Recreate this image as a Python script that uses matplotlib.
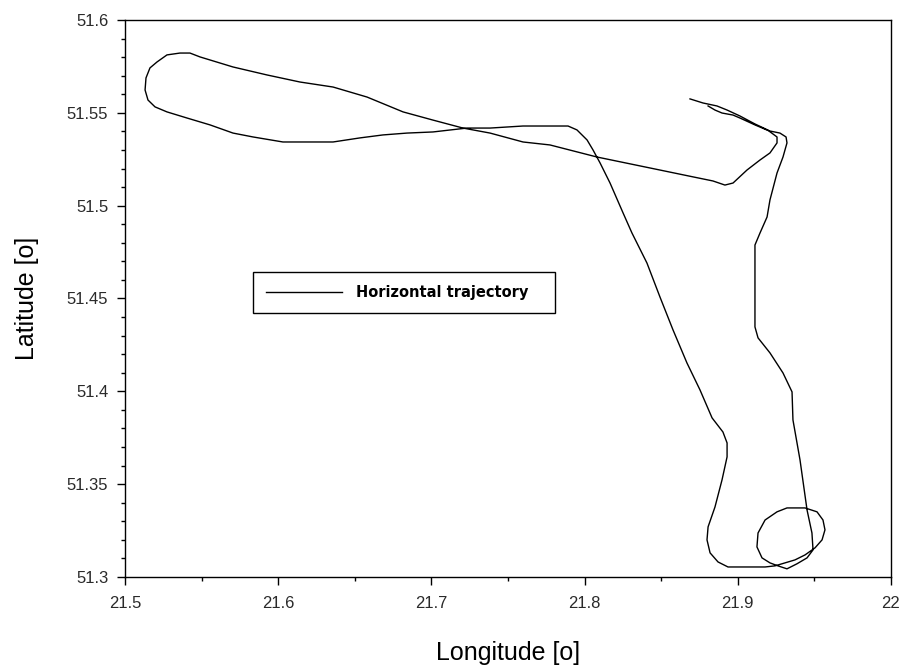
import numpy as np
import matplotlib.pyplot as plt
from matplotlib.ticker import MultipleLocator

plt.rcParams['font.family'] = ['Liberation Sans', 'DejaVu Sans']

# flight track, degrees
lon = [
    21.8688, 21.8773, 21.8864, 21.8930, 21.9014, 21.9112, 21.9210, 21.9275,
    21.9315, 21.9321, 21.9295, 21.9256, 21.9210, 21.9191, 21.9145, 21.9112,
    21.9112, 21.9132, 21.9210, 21.9295, 21.9354, 21.9360, 21.9406, 21.9452,
    21.9484, 21.9491, 21.9452, 21.9386, 21.9321, 21.9262,
    21.9210, 21.9158, 21.9125, 21.9132, 21.9178, 21.9256, 21.9321, 21.9439,
    21.9517, 21.9556, 21.9569, 21.9550, 21.9504, 21.9439, 21.9373, 21.9308,
    21.9243, 21.9178,
    21.8936, 21.8871, 21.8819, 21.8799, 21.8806, 21.8851, 21.8897, 21.8930,
    21.8930, 21.8903, 21.8832, 21.8753, 21.8668, 21.8577, 21.8492, 21.8407,
    21.8309, 21.8251, 21.8166, 21.8101, 21.8055, 21.8016, 21.7950, 21.7892,
    21.7598, 21.7383, 21.7232, 21.7010, 21.6841, 21.6684, 21.6534, 21.6358,
    21.6031, 21.5836, 21.5705, 21.5555, 21.5405, 21.5274, 21.5196, 21.5150,
    21.5131, 21.5137, 21.5163, 21.5209, 21.5274, 21.5359, 21.5424, 21.5490,
    21.5705, 21.5927, 21.6142, 21.6358, 21.6580, 21.6815, 21.7010, 21.7206,
    21.7383, 21.7598, 21.7774, 21.8081, 21.8427, 21.8708, 21.8838, 21.8916,
    21.8969, 21.9060, 21.9145, 21.9210, 21.9256, 21.9256, 21.9200, 21.9112,
    21.9014, 21.8969, 21.8897, 21.8851, 21.8806,
]
lat = [
    51.5575, 51.5553, 51.5537, 51.5515, 51.5483, 51.5440, 51.5402, 51.5391,
    51.5370, 51.5338, 51.5262, 51.5176, 51.5031, 51.4939, 51.4853, 51.4788,
    51.4347, 51.4288, 51.4207, 51.4099, 51.3997, 51.3846, 51.3631, 51.3361,
    51.3237, 51.3146, 51.3103, 51.3071, 51.3044, 51.3060,
    51.3076, 51.3103, 51.3162, 51.3237, 51.3307, 51.3351, 51.3372, 51.3372,
    51.3351, 51.3307, 51.3254, 51.3200, 51.3157, 51.3119, 51.3092, 51.3076,
    51.3060, 51.3054,
    51.3054, 51.3081, 51.3130, 51.3200, 51.3270, 51.3377, 51.3523, 51.3647,
    51.3722, 51.3781, 51.3857, 51.4008, 51.4153, 51.4331, 51.4508, 51.4691,
    51.4853, 51.4961, 51.5122, 51.5230, 51.5300, 51.5354, 51.5408, 51.5429,
    51.5429, 51.5418, 51.5418, 51.5397, 51.5391, 51.5381, 51.5365, 51.5343,
    51.5343, 51.5370, 51.5391, 51.5435, 51.5472, 51.5505, 51.5532, 51.5569,
    51.5623, 51.5688, 51.5742, 51.5774, 51.5812, 51.5822, 51.5822, 51.5801,
    51.5747, 51.5704, 51.5666, 51.5639, 51.5585, 51.5505, 51.5461, 51.5418,
    51.5391, 51.5343, 51.5327, 51.5262, 51.5203, 51.5155, 51.5133, 51.5111,
    51.5122, 51.5192, 51.5246, 51.5284, 51.5338, 51.5370, 51.5404, 51.5435,
    51.5472, 51.5488, 51.5499, 51.5515, 51.5537,
]

xticks = [21.5, 21.6, 21.7, 21.8, 21.9, 22.0]
xtick_labels = ['21.5', '21.6', '21.7', '21.8', '21.9', '22']
yticks = [51.3, 51.35, 51.4, 51.45, 51.5, 51.55, 51.6]
ytick_labels = ['51.3', '51.35', '51.4', '51.45', '51.5', '51.55', '51.6']

fig = plt.figure(figsize=(9.04, 6.68), dpi=100)
ax = fig.add_axes([125 / 904, 1 - 577 / 668, 766 / 904, 557 / 668])

ax.plot(lon, lat, color='black', lw=1.0, label='Horizontal trajectory')

ax.set_xlim(21.5, 22.0)
ax.set_ylim(51.3, 51.6)
ax.set_xticks(xticks)
ax.set_xticklabels(xtick_labels)
ax.set_yticks(yticks)
ax.set_yticklabels(ytick_labels)
ax.xaxis.set_minor_locator(MultipleLocator(0.05))
ax.yaxis.set_minor_locator(MultipleLocator(0.01))
ax.tick_params(which='major', direction='out', length=6, width=1,
               labelsize=12, colors='black', labelcolor='#2a2a2a')
ax.tick_params(which='minor', direction='out', length=3, width=1)
ax.tick_params(axis='x', pad=8)
ax.tick_params(axis='y', pad=6)
for s in ax.spines.values():
    s.set_linewidth(1.0)

ax.set_xlabel('Longitude [o]', fontsize=18, labelpad=21)
ax.set_ylabel('Latitude [o]', fontsize=18, labelpad=20)

leg = ax.legend(loc='lower left', bbox_to_anchor=(0.167, 0.474, 0.394, 0.084),
                mode='expand', borderaxespad=0, fancybox=False, framealpha=1,
                edgecolor='black', borderpad=0.9, handlelength=5.2,
                handletextpad=1.0,
                prop={'size': 10.5, 'weight': 'bold', 'family': 'DejaVu Sans'})
leg.get_frame().set_linewidth(1.0)

fig.savefig('out.png', dpi=100)
